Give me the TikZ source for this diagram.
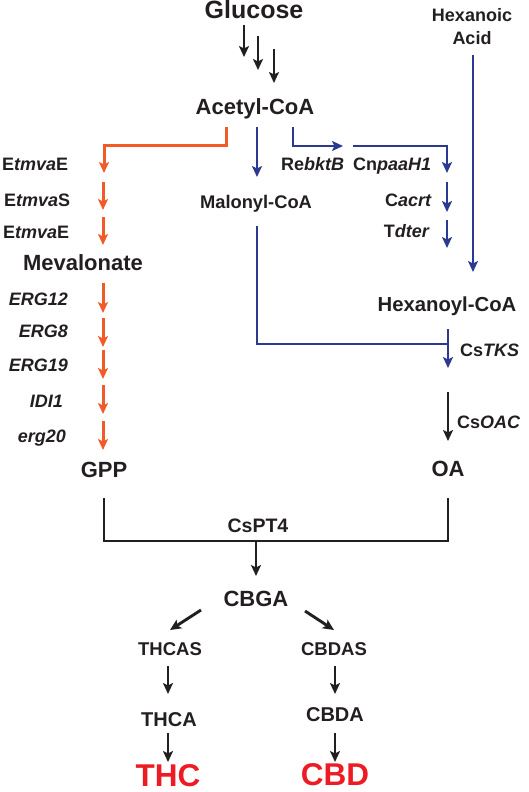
\documentclass[tikz,border=0pt]{standalone}
\usepackage{fontspec}
\setmainfont{Liberation Sans}
\usetikzlibrary{arrows.meta}
\definecolor{txt}{HTML}{231F20}
\definecolor{orng}{HTML}{F15A29}
\definecolor{blu}{HTML}{2B3990}
\definecolor{rd}{HTML}{ED1C24}
\newcommand{\fs}[1]{\fontsize{#1}{#1}\selectfont\bfseries}
\tikzset{
  lbl/.style={inner sep=0pt, text=txt, font=\fs{18}},
  met/.style={inner sep=0pt, text=txt, anchor=base},
  tip/.style={-{Stealth[length=11pt,width=10pt,inset=2.5pt]}},
  oline/.style={draw=orng, line width=3pt},
  bline/.style={draw=blu, line width=2.7pt},
  kline/.style={draw=txt, line width=2.9pt},
}
\begin{document}
\begin{tikzpicture}[x=1pt,y=-1pt]
\useasboundingbox (0,0) rectangle (529,792);
% metabolites
\node[met, font=\fs{25}] (glc) at (254,19) {Glucose};
\node[met, font=\fontsize{18}{23}\selectfont\bfseries, align=center] (hexacid) at (472,45) {Hexanoic\\Acid};
\node[met, font=\fs{22}] (acoa) at (255,114) {Acetyl-CoA};
\node[met, font=\fs{18.3}] (mcoa) at (256,208) {Malonyl-CoA};
\node[met, font=\fs{22}] (mev) at (83,270) {Mevalonate};
\node[met, font=\fs{20.3}] (hcoa) at (447,311) {Hexanoyl-CoA};
\node[met, font=\fs{22}] (gpp) at (104,477) {GPP};
\node[met, font=\fs{22}] (oa) at (448,476) {OA};
\node[met, font=\fs{19.5}] (pt4) at (258,532) {CsPT4};
\node[met, font=\fs{22}] (cbga) at (256,606) {CBGA};
\node[met, font=\fs{18.5}] (thcas) at (170,655) {THCAS};
\node[met, font=\fs{18.5}] (cbdas) at (334,655) {CBDAS};
\node[met, font=\fs{20}] (thca) at (169,726) {THCA};
\node[met, font=\fs{20}] (cbda) at (335,721) {CBDA};
\node[met, font=\fs{31.5}, text=rd] (thc) at (168,786) {THC};
\node[met, font=\fs{31.5}, text=rd] (cbd) at (335,785) {CBD};
% gene labels
\node[lbl, anchor=base west] (g1) at (2,170) {E\textit{tmva}E};
\node[lbl, anchor=base west] (g2) at (4,206) {E\textit{tmva}S};
\node[lbl, anchor=base west] (g3) at (3,238) {E\textit{tmva}E};
\node[lbl, anchor=base east] (g4) at (68,305) {\textit{ERG12}};
\node[lbl, anchor=base east] (g5) at (68,337) {\textit{ERG8}};
\node[lbl, anchor=base east] (g6) at (68,371) {\textit{ERG19}};
\node[lbl, anchor=base east] (g7) at (63,407) {\textit{IDI1}};
\node[lbl, anchor=base east] (g8) at (66,442) {\textit{erg20}};
\node[lbl, anchor=base west] (g9) at (281,170) {Re\textit{bktB}};
\node[lbl, anchor=base west] (g10) at (353,170) {Cn\textit{paaH1}};
\node[lbl, anchor=base east] (g11) at (432,206) {C\textit{acrt}};
\node[lbl, anchor=base east] (g12) at (430,237) {T\textit{dter}};
\node[lbl, anchor=base west] (g13) at (460,356) {Cs\textit{TKS}};
\node[lbl, anchor=base west] (g14) at (457,428) {Cs\textit{OAC}};
% coordinates
\coordinate (ga1) at (244,25); \coordinate (gb1) at (244,57);
\coordinate (ga2) at (258,36); \coordinate (gb2) at (258,70);
\coordinate (ga3) at (274,49); \coordinate (gb3) at (274,83);
\coordinate (o0) at (226,127); \coordinate (o0b) at (226,145); \coordinate (o0c) at (104,145); \coordinate (o0d) at (104,173);
\coordinate (o1a) at (103,182); \coordinate (o1b) at (103,210);
\coordinate (o2a) at (103,217); \coordinate (o2b) at (103,245);
\coordinate (o3a) at (103,283); \coordinate (o3b) at (103,313);
\coordinate (o4a) at (103,318); \coordinate (o4b) at (103,347);
\coordinate (o5a) at (103,350); \coordinate (o5b) at (103,379);
\coordinate (o6a) at (103,385); \coordinate (o6b) at (103,414);
\coordinate (o7a) at (103,421); \coordinate (o7b) at (103,450);
\coordinate (b1a) at (257,127); \coordinate (b1b) at (257,177);
\coordinate (b2a) at (293,127); \coordinate (b2b) at (293,146); \coordinate (b2c) at (343,146);
\coordinate (b3a) at (353,146); \coordinate (b3b) at (447,146); \coordinate (b3c) at (447,173);
\coordinate (b4a) at (447,182); \coordinate (b4b) at (447,212);
\coordinate (b5a) at (447,220); \coordinate (b5b) at (447,248);
\coordinate (b6a) at (473,55); \coordinate (b6b) at (473,272);
\coordinate (b7a) at (257,226); \coordinate (b7b) at (257,344); \coordinate (b7c) at (448,344);
\coordinate (b8a) at (448,329); \coordinate (b8b) at (448,368);
\coordinate (k1a) at (448,392); \coordinate (k1b) at (448,441);
\coordinate (k2a) at (104,498); \coordinate (k2b) at (104,541); \coordinate (k2c) at (448,541); \coordinate (k2d) at (448,498);
\coordinate (k3a) at (256,541); \coordinate (k3b) at (256,576);
\coordinate (k4a) at (201,610); \coordinate (k4b) at (170,630);
\coordinate (k5a) at (305,611); \coordinate (k5b) at (334,630);
\coordinate (k6a) at (168,666); \coordinate (k6b) at (168,694);
\coordinate (k7a) at (335,666); \coordinate (k7b) at (335,694);
\coordinate (k8a) at (168,733); \coordinate (k8b) at (168,762);
\coordinate (k9a) at (335,733); \coordinate (k9b) at (335,762);
% glucose arrows
\draw[kline, tip] (ga1) -- (gb1);
\draw[kline, tip] (ga2) -- (gb2);
\draw[kline, tip] (ga3) -- (gb3);
% orange
\draw[oline, tip] (o0) -- (o0b) -- (o0c) -- (o0d);
\foreach \i in {1,...,7} {\draw[oline, tip] (o\i a) -- (o\i b);}
% blue
\draw[bline, tip] (b1a) -- (b1b);
\draw[bline, tip] (b2a) -- (b2b) -- (b2c);
\draw[bline, tip] (b3a) -- (b3b) -- (b3c);
\draw[bline, tip] (b4a) -- (b4b);
\draw[bline, tip] (b5a) -- (b5b);
\draw[bline, tip] (b6a) -- (b6b);
\draw[bline] (b7a) -- (b7b) -- (b7c);
\draw[bline, tip] (b8a) -- (b8b);
% black
\draw[kline, tip] (k1a) -- (k1b);
\draw[kline] (k2a) -- (k2b) -- (k2c) -- (k2d);
\draw[kline, tip] (k3a) -- (k3b);
\draw[kline, tip] (k4a) -- (k4b);
\draw[kline, tip] (k5a) -- (k5b);
\draw[kline, tip] (k6a) -- (k6b);
\draw[kline, tip] (k7a) -- (k7b);
\draw[kline, tip] (k8a) -- (k8b);
\draw[kline, tip] (k9a) -- (k9b);
\end{tikzpicture}
\end{document}
